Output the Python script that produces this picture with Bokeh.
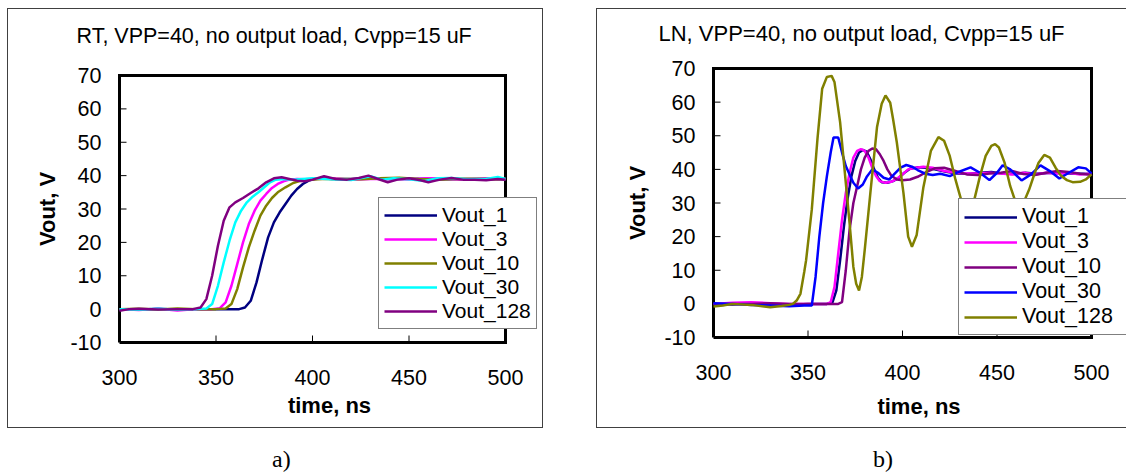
from bokeh.plotting import figure
from bokeh.models import (Legend, LegendItem, FixedTicker, Range1d, Title, Div)
from bokeh.layouts import row, column
from bokeh.embed import file_html
from bokeh.resources import INLINE

# ---------------- data ----------------
series_names = ["Vout_1", "Vout_3", "Vout_10", "Vout_30", "Vout_128"]
x_ticks = [300, 350, 400, 450, 500]
y_ticks = [-10, 0, 10, 20, 30, 40, 50, 60, 70]

titles = ["RT, VPP=40, no output load, Cvpp=15 uF", "LN, VPP=40, no output load, Cvpp=15 uF"]
captions = ["a)", "b)"]
x_label = "time, ns"
y_label = "Vout, V"

# panel a) RT
rt_t_1 = [300, 310, 320, 330, 340, 350, 358, 362, 365, 368, 371, 374, 377, 380, 383, 386, 389, 392, 395, 398, 401, 405, 410, 420, 430, 440, 450, 460, 470, 480, 490, 500]
rt_v_1 = [0, -0.2, 0.1, -0.2, 0, 0, 0, 0, 0.5, 2.5, 8, 15, 21.5, 26, 29, 31.5, 34, 36, 37.5, 38.5, 39, 39.2, 39, 39, 39.2, 39, 39, 39.1, 38.9, 39, 39.1, 38.9]
rt_t_3 = [300, 310, 320, 330, 340, 348, 352, 355, 358, 361, 364, 367, 370, 373, 376, 379, 382, 385, 388, 392, 396, 400, 410, 420, 430, 440, 450, 460, 470, 480, 490, 500]
rt_v_3 = [0, -0.3, 0.1, -0.4, 0, 0, 0.3, 2, 7, 13.5, 20, 25.5, 29.5, 32.5, 34.5, 36.3, 37.5, 38.3, 38.8, 39, 38.9, 39, 39.2, 38.8, 39, 39.1, 38.9, 39.2, 39, 38.8, 39.1, 39]
rt_t_10 = [300, 310, 320, 330, 340, 350, 355, 358, 361, 364, 367, 370, 373, 376, 379, 382, 386, 390, 394, 398, 405, 415, 425, 435, 445, 455, 465, 475, 485, 495, 500]
rt_v_10 = [0, 0.1, -0.1, 0.2, 0, 0, 0.2, 1.5, 6, 12.5, 18.5, 23.5, 28, 31, 33.3, 35, 36.5, 37.8, 38.5, 38.8, 39, 39, 38.9, 39.2, 39.4, 39, 38.8, 39.1, 39, 38.9, 39]
rt_t_30 = [300, 310, 320, 330, 340, 345, 348, 351, 354, 357, 360, 363, 366, 369, 372, 375, 378, 381, 385, 390, 395, 400, 410, 420, 430, 436, 442, 450, 458, 465, 472, 480, 490, 496, 500]
rt_v_30 = [0, -0.2, 0.1, -0.2, 0, 0.2, 1.5, 7, 14, 20.5, 26, 29.5, 32, 33.7, 35, 36.5, 38, 38.8, 39, 38.8, 39, 39.2, 38.9, 38.7, 39.8, 38.8, 39.2, 38.9, 38.4, 39.2, 39.3, 38.9, 39, 39.6, 39]
rt_t_128 = [300, 305, 310, 320, 330, 338, 342, 345, 348, 351, 354, 357, 360, 364, 368, 372, 376, 380, 384, 388, 392, 396, 400, 406, 412, 418, 424, 429, 434, 439, 444, 450, 456, 460, 466, 472, 478, 484, 490, 496, 500]
rt_v_128 = [-0.5, 0, 0.1, -0.1, 0, 0, 0.5, 3, 10, 19, 26.5, 30.5, 32, 33.3, 34.8, 36.2, 38, 39.2, 39.5, 39, 38.5, 38.3, 38.8, 39.8, 39, 38.8, 39.3, 40, 39, 38, 38.8, 39.2, 38.6, 38, 38.8, 39.3, 38.8, 38.8, 38.6, 39, 38.8]

# panel b) LN
ln_t_1 = [300, 310, 320, 330, 340, 350, 360, 363, 365, 367, 369, 371, 373, 375, 377, 379, 381, 383, 385, 387, 389, 392, 395, 398, 401, 404, 408, 412, 417, 423, 429, 435, 441, 447, 453, 459, 465, 471, 477, 483, 489, 495, 500]
ln_v_1 = [0, -0.2, 0.2, 0, -0.3, 0, 0, 0.5, 4, 13, 23, 31.5, 38, 42.5, 45, 45.8, 45.3, 43, 40, 37.5, 36.2, 36, 36.5, 37.5, 39, 40.2, 40.6, 40.5, 40, 39.3, 38.8, 38.7, 39, 39.2, 38.8, 38.6, 39, 38.7, 38.9, 38.9, 38.8, 38.7, 38.6]
ln_t_3 = [300, 310, 320, 330, 340, 350, 360, 362, 364, 366, 368, 370, 372, 374, 376, 378, 380, 382, 384, 386, 388, 391, 394, 397, 400, 403, 407, 411, 416, 422, 428, 434, 440, 446, 452, 458, 464, 470, 476, 482, 488, 494, 500]
ln_v_3 = [0, 0.3, 0.5, 0.2, 0, 0, 0, 0.5, 5, 15, 25, 33, 39, 43.5, 45.5, 46, 45.5, 43.5, 40.5, 38, 36.5, 36, 36.3, 37.2, 38.5, 40, 40.5, 40.8, 40.5, 39.5, 39, 38.8, 38.8, 39, 38.8, 38.5, 39, 38.5, 39, 38.8, 39, 38.5, 38.8]
ln_t_10 = [300, 310, 320, 330, 340, 350, 360, 366, 368, 370, 372, 374, 376, 378, 380, 382, 384, 386, 388, 390, 392, 394, 397, 400, 404, 408, 412, 417, 422, 428, 434, 440, 446, 452, 458, 464, 470, 476, 482, 488, 494, 500]
ln_v_10 = [0, 0, 0, 0.2, 0, 0, 0, 0, 0.5, 10, 22, 30, 35, 40, 43.5, 45.5, 46.2, 46, 44.5, 42.5, 40, 38.2, 37, 36.8, 37, 37.8, 39, 40.3, 40.5, 39.5, 38.5, 38.3, 38.8, 39, 39.5, 38.6, 38.3, 39, 39.5, 39.2, 38.7, 38.4]
ln_t_30 = [300, 310, 320, 330, 340, 348, 352, 354, 356, 358, 360, 362, 363.5, 366, 368, 370, 372, 374, 376.5, 379, 381, 384, 387, 390, 393, 396, 399, 402, 405, 408, 412, 416, 420, 425, 430, 436, 441, 446, 450, 453, 457, 463, 468, 473, 478, 483, 488, 493, 497, 500]
ln_v_30 = [0.2, 0, -0.3, -0.5, -0.7, -0.5, -0.5, 8, 20, 30, 38, 45, 49.5, 49.5, 45, 41, 38.5, 36, 34.3, 35.5, 37.7, 40, 39, 37.5, 37, 38.8, 40.5, 41.3, 40.8, 39.8, 38.7, 38.3, 38.7, 38, 39.3, 40.6, 39, 36.8, 39, 41.2, 40, 36.7, 38.5, 41.2, 39.5, 37.3, 39, 40.6, 40.3, 38.8]
ln_t_128 = [300, 305, 310, 320, 330, 336, 340, 342, 344, 346, 348, 349, 352, 355, 357.5, 360, 362.5, 364, 367, 370, 372, 374, 375.5, 377, 378.5, 380, 383, 386.5, 389, 391, 393.5, 395, 397, 400.5, 403, 405, 407.5, 411, 415, 419, 422, 425, 428, 431, 434, 436, 438, 441, 444, 447, 449, 451, 454, 457, 460, 462, 464, 467, 470, 472, 475, 478, 481, 484, 487, 490, 494, 497, 500]
ln_v_128 = [-0.8, -0.5, 0, -0.3, -1, -0.6, -0.3, 0, 1, 3, 9.5, 13, 28, 49, 64, 67.5, 67.8, 66, 54, 36, 24, 11, 6, 4, 8, 16, 33, 52.5, 59.5, 62, 59.8, 55, 48, 33, 20, 17, 20.5, 34.5, 45.5, 49.6, 48.5, 44, 37, 31, 29, 29, 31, 38, 44, 47, 47.5, 46.5, 42, 35, 30, 29.3, 30, 34, 39, 42, 44.3, 43.5, 40.5, 38, 36.8, 36.2, 36.3, 37, 38.5]

rt_series = [(rt_t_1, rt_v_1), (rt_t_3, rt_v_3), (rt_t_10, rt_v_10), (rt_t_30, rt_v_30), (rt_t_128, rt_v_128)]
ln_series = [(ln_t_1, ln_v_1), (ln_t_3, ln_v_3), (ln_t_10, ln_v_10), (ln_t_30, ln_v_30), (ln_t_128, ln_v_128)]
rt_colors = ["#000080", "#FF00FF", "#808000", "#00FFFF", "#800080"]
ln_colors = ["#000080", "#FF00FF", "#800080", "#0000FF", "#808000"]

FONT = "Liberation Sans"
H = 460


def make_panel(width, box_l, box_r, box_t, box_b, ext_r, title, title_size,
               title_offset, spacer_standoff, series, colors, legend_xy,
               legend_font, legend_label_w, ylab_standoff, xlab_standoff):
    # the plotting box (300..500 x -10..70) is drawn as a thick line; the frame is
    # 2px larger (and wider on the right so the legend can overhang the box)
    kx = (box_r - box_l) / (x_ticks[-1] - x_ticks[0])
    ky = (box_b - box_t) / (y_ticks[-1] - y_ticks[0])
    pad = 2
    fl, fr, ft, fb = box_l - pad, box_r + ext_r, box_t - pad, box_b + pad
    p = figure(width=width, height=H,
               x_range=Range1d(x_ticks[0] - pad / kx, x_ticks[-1] + ext_r / kx),
               y_range=Range1d(y_ticks[0] - pad / ky, y_ticks[-1] + pad / ky),
               output_backend="svg", toolbar_location=None,
               min_border_left=fl, min_border_right=width - fr,
               min_border_top=ft, min_border_bottom=H - fb)
    if "frame_align" in p.properties():
        p.frame_align = False
    p.background_fill_color = "white"
    p.border_fill_color = None
    p.grid.visible = False
    p.outline_line_color = None

    # spacer between frame and title, then the title itself
    p.title.text = ""
    p.add_layout(Title(text=" ", text_font_size="10px", standoff=spacer_standoff,
                       text_color="white"), "above")
    p.add_layout(Title(text=title, align="left", offset=title_offset, standoff=0,
                       text_font=FONT, text_font_size=title_size,
                       text_font_style="normal", text_color="black"), "above")

    for ax in (p.xaxis[0], p.yaxis[0]):
        ax.axis_line_color = None
        ax.major_tick_out = 0
        ax.major_tick_in = 0
        ax.major_tick_line_color = None
        ax.minor_tick_line_color = None
        ax.major_label_text_font = FONT
        ax.major_label_text_font_size = "21.5px"
        ax.major_label_text_color = "black"
        ax.axis_label_text_font = FONT
        ax.axis_label_text_font_size = "22px"
        ax.axis_label_text_font_style = "bold"
        ax.axis_label_text_color = "black"
    p.xaxis.ticker = FixedTicker(ticks=x_ticks)
    p.yaxis.ticker = FixedTicker(ticks=y_ticks)
    p.yaxis.major_label_overrides = {-10: "-10"}
    p.xaxis.axis_label = x_label
    p.yaxis.axis_label = y_label
    p.xaxis.major_label_standoff = 25
    p.xaxis.axis_label_standoff = xlab_standoff
    p.yaxis.major_label_standoff = 16
    p.yaxis.axis_label_standoff = ylab_standoff

    # invisible first glyph, then the plotting box outline and inner tick marks
    p.line([x_ticks[0], x_ticks[-1]], [y_ticks[0], y_ticks[0]], line_alpha=0)
    bx = [x_ticks[0], x_ticks[-1], x_ticks[-1], x_ticks[0], x_ticks[0]]
    by = [y_ticks[0], y_ticks[0], y_ticks[-1], y_ticks[-1], y_ticks[0]]
    p.line(bx, by, line_color="black", line_width=3, line_join="miter")
    tick_len = 7
    p.segment(x0=x_ticks[1:-1], y0=[y_ticks[0]] * 3,
              x1=x_ticks[1:-1], y1=[y_ticks[0] + tick_len / ky] * 3,
              line_color="black", line_width=1)
    p.segment(x0=[x_ticks[0]] * 7, y0=y_ticks[1:-1],
              x1=[x_ticks[0] + tick_len / kx] * 7, y1=y_ticks[1:-1],
              line_color="black", line_width=1)

    items = []
    for name, (t, v), c in zip(series_names, series, colors):
        r = p.line(t, v, line_color=c, line_width=2.5)
        items.append(LegendItem(label=name, renderers=[r]))
    leg = Legend(items=items, location=legend_xy, margin=0, padding=5,
                 spacing=0, glyph_width=53, glyph_height=20, label_height=20,
                 label_width=legend_label_w, label_text_line_height=1.0,
                 label_standoff=5, label_text_font=FONT,
                 label_text_font_size=legend_font, label_text_color="black",
                 border_line_color="black", border_line_width=1,
                 background_fill_color="white", background_fill_alpha=1)
    p.add_layout(leg)
    return p


# left panel: canvas x 0..569; plotting box x 119..505, y 75..342
pa = make_panel(569, 119, 505, 75, 342, 36, titles[0], "21.5px", -41, 13,
                rt_series, rt_colors, (261, 15), "21px", 20, 7, 5)
# right panel: canvas x 569..1126; plotting box x 713..1091 -> local 144..522, y 68..337
pb = make_panel(557, 144, 522, 68, 337, 35, titles[1], "22px", -53, 8,
                ln_series, ln_colors, (247, 4), "21.5px", 100, 11, 11)

cap_style = {"font-family": "Liberation Serif", "font-size": "24px",
             "line-height": "26px", "color": "black"}
cap_a = Div(text=captions[0], width=30, height=30, margin=(446 - H, 0, 0, 272), styles=cap_style)
cap_b = Div(text=captions[1], width=30, height=30, margin=(446 - H, 0, 0, 571), styles=cap_style)

# thin frames around each panel (page background)
g = "linear-gradient(#404040,#404040)"
frames = ", ".join([
    f"{g} 7px 8px / 536px 1px no-repeat",
    f"{g} 7px 427px / 536px 1px no-repeat",
    f"{g} 7px 8px / 1px 420px no-repeat",
    f"{g} 542px 8px / 1px 420px no-repeat",
    f"{g} 596px 8px / 540px 1px no-repeat",
    f"{g} 596px 427px / 540px 1px no-repeat",
    f"{g} 596px 8px / 1px 420px no-repeat",
    "white",
])

layout = column(row(pa, pb), row(cap_a, cap_b), styles={"background": frames})
open("out.html", "w").write(file_html(layout, INLINE))
